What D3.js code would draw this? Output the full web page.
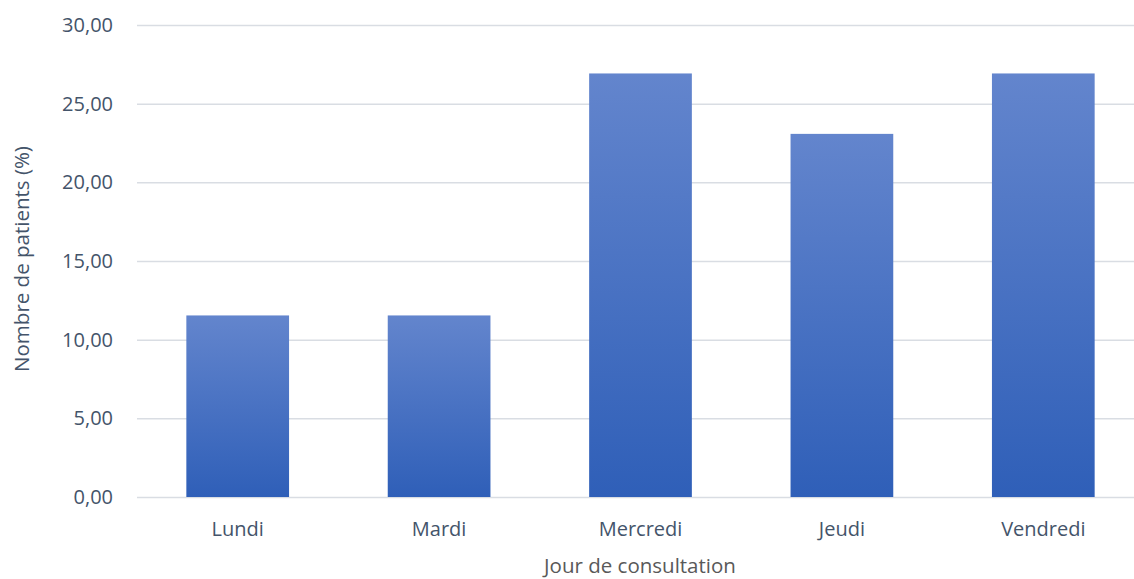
<!DOCTYPE html>
<html>
<head>
<meta charset="utf-8">
<title>Nombre de patients par jour de consultation</title>
<style>
  body { margin: 0; background: #fff; }
  svg text { font-family: "Open Sans", "Noto Sans", sans-serif; }
</style>
</head>
<body>
<script src="https://cdn.jsdelivr.net/npm/d3@7"></script>
<script>
// data (26 patients: 3, 3, 7, 6, 7)
var jours = ["Lundi", "Mardi", "Mercredi", "Jeudi", "Vendredi"];
var pourcentages = [11.54, 11.54, 26.92, 23.08, 26.92];
var yTicks = [0, 5, 10, 15, 20, 25, 30];

var width = 1134, height = 579;
var margin = {top: 25, right: -10, bottom: 82, left: 137};

var svg = d3.select("body").append("svg")
  .attr("width", width)
  .attr("height", height);

// bar gradient, lighter on top
var grad = svg.append("defs").append("linearGradient")
  .attr("id", "barGrad")
  .attr("x1", 0).attr("y1", 0).attr("x2", 0).attr("y2", 1);
grad.append("stop").attr("offset", "0%").attr("stop-color", "#6385cd");
grad.append("stop").attr("offset", "100%").attr("stop-color", "#2f5fb8");

var x = d3.scaleBand()
  .domain(jours)
  .range([margin.left, width - margin.right])
  .paddingInner(0.49)
  .paddingOuter(0.245);

var y = d3.scaleLinear()
  .domain([0, 30])
  .range([height - margin.bottom, margin.top]);

// gridlines + y labels
var yAxis = d3.axisLeft(y)
  .tickValues(yTicks)
  .tickSize(-(width - margin.left))
  .tickPadding(24)
  .tickFormat(function(d) { return d3.format(".2f")(d).replace(".", ","); });

var gy = svg.append("g")
  .attr("transform", "translate(" + margin.left + ",0)")
  .call(yAxis);
gy.select(".domain").remove();
gy.selectAll("line").attr("stroke", "#d9dde3").attr("stroke-width", 1.5);
gy.selectAll("text").attr("fill", "#44546a").attr("font-size", 20);

// bars
svg.selectAll("rect.bar")
  .data(pourcentages)
  .enter()
  .append("rect")
  .attr("class", "bar")
  .attr("x", function(d, i) { return x(jours[i]); })
  .attr("y", function(d) { return y(d); })
  .attr("width", x.bandwidth())
  .attr("height", function(d) { return y(0) - y(d); })
  .attr("fill", "url(#barGrad)");

// x labels
var xAxis = d3.axisBottom(x).tickSize(0).tickPadding(25);
var gx = svg.append("g")
  .attr("transform", "translate(0," + y(0) + ")")
  .call(xAxis);
gx.select(".domain").remove();
gx.selectAll("text").attr("fill", "#44546a").attr("font-size", 20);

// axis titles
svg.append("text")
  .attr("x", 640)
  .attr("y", 573)
  .attr("text-anchor", "middle")
  .attr("fill", "#595959")
  .attr("font-size", 20.5)
  .text("Jour de consultation");

svg.append("text")
  .attr("transform", "translate(29,259) rotate(-90)")
  .attr("text-anchor", "middle")
  .attr("fill", "#44546a")
  .attr("font-size", 20.5)
  .text("Nombre de patients (%)");
</script>
</body>
</html>
